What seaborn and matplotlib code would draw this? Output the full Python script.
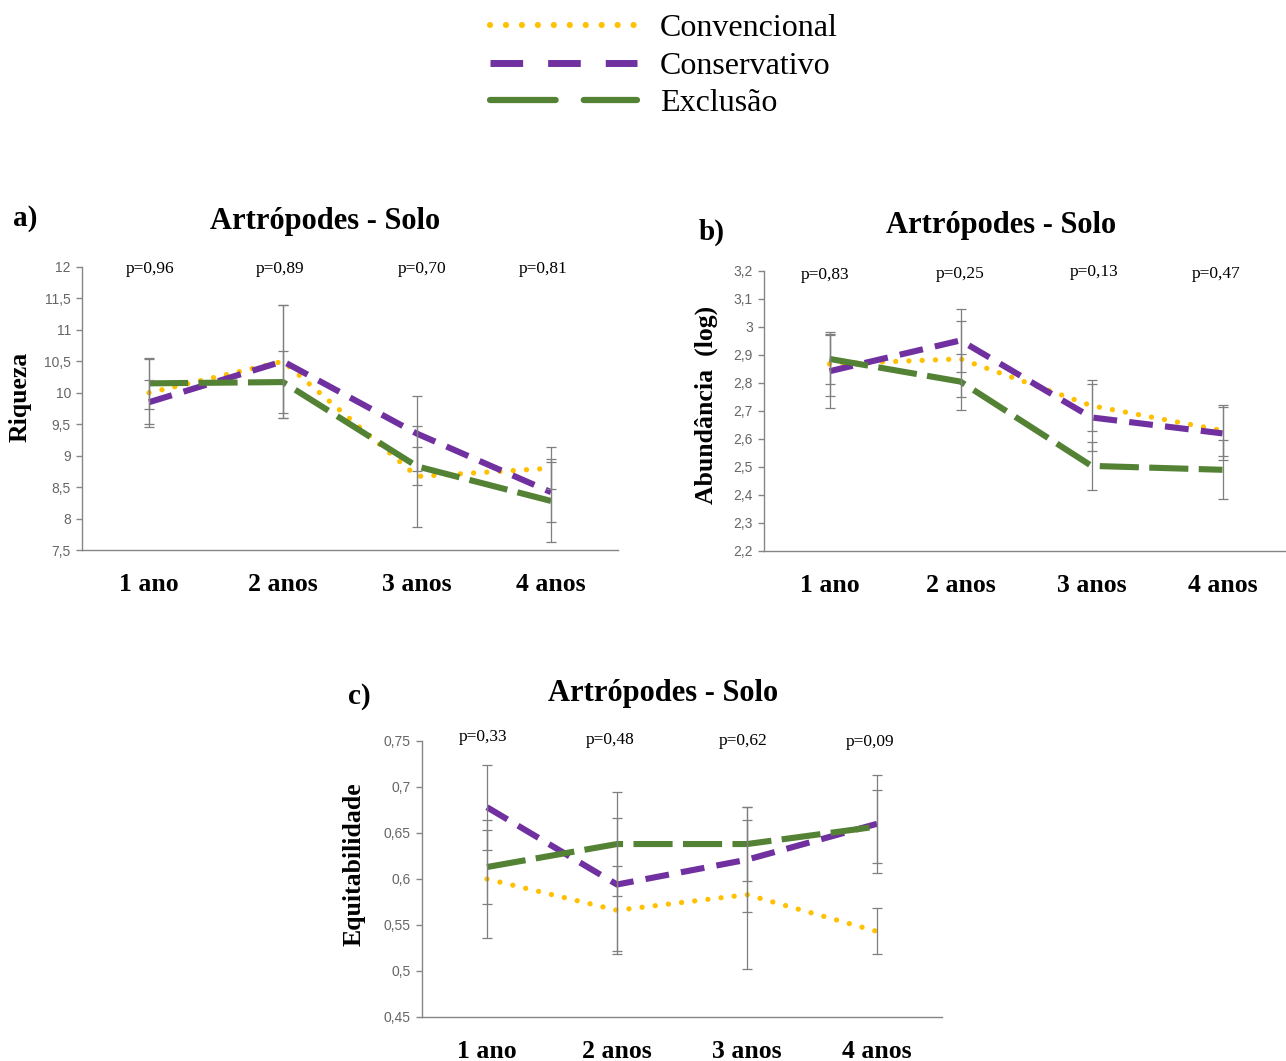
import numpy as np
import pandas as pd
import matplotlib
matplotlib.use("Agg")
import matplotlib.pyplot as plt
import matplotlib.transforms as mtransforms
import seaborn as sns
from matplotlib.lines import Line2D
from matplotlib.ticker import FuncFormatter, MultipleLocator, FixedLocator

sns.set_theme(style="white")
plt.rcParams['font.family'] = ['Liberation Serif', 'DejaVu Serif']
plt.rcParams['text.color'] = 'black'
plt.rcParams['axes.labelcolor'] = 'black'

# ---------------- data ----------------
categories = ["1 ano", "2 anos", "3 anos", "4 anos"]
treatments = ["Convencional", "Conservativo", "Exclusão"]

riq_conv = [10.0, 10.5, 8.67, 8.8]
riq_cons = [9.85, 10.5, 9.35, 8.42]
riq_excl = [10.15, 10.17, 8.83, 8.28]
riq_err_conv = [0.54, 0.9, 0.8, 0.33]
riq_err_cons = [0.35, 0.9, 0.6, 0.48]
riq_err_excl = [0.40, 0.49, 0.3, 0.66]
riq_p = ["p=0,96", "p=0,89", "p=0,70", "p=0,81"]

abd_conv = [2.868, 2.886, 2.719, 2.63]
abd_cons = [2.842, 2.952, 2.677, 2.62]
abd_excl = [2.886, 2.805, 2.504, 2.49]
abd_err_conv = [0.115, 0.135, 0.09, 0.09]
abd_err_cons = [0.13, 0.113, 0.12, 0.095]
abd_err_excl = [0.09, 0.10, 0.085, 0.105]
abd_p = ["p=0,83", "p=0,25", "p=0,13", "p=0,47"]

eq_conv = [0.600, 0.566, 0.583, 0.543]
eq_cons = [0.678, 0.594, 0.621, 0.660]
eq_excl = [0.613, 0.638, 0.638, 0.657]
eq_err_conv = [0.064, 0.048, 0.081, 0.025]
eq_err_cons = [0.046, 0.072, 0.057, 0.053]
eq_err_excl = [0.040, 0.057, 0.040, 0.040]
eq_p = ["p=0,33", "p=0,48", "p=0,62", "p=0,09"]

# ---------------- style ----------------
palette = {"Convencional": "#FFC000", "Conservativo": "#7030A0", "Exclusão": "#548235"}
dashes = {"Convencional": (0.01, 2.5), "Conservativo": (3.9, 2.0), "Exclusão": (6.4, 1.7)}
widths = {"Convencional": 3.8, "Conservativo": 4.4, "Exclusão": 4.4}
GRAY = "#868686"
TICK_GRAY = "#666666"

W, H = 1286, 1061
fig = plt.figure(figsize=(W / 100, H / 100), dpi=100)


def px_axes(left, top, right, bottom):
    return fig.add_axes([left / W, 1 - bottom / H, (right - left) / W, (bottom - top) / H])


def comma_fmt(v, pos):
    s = f"{round(v, 3):g}"
    return s.replace(".", ",")


def draw_panel(ax, series, errs, pvals, ylim, step, ylabel, ylabel_xy, p_xoff, p_y):
    rows = []
    for t in treatments:
        for i, v in enumerate(series[t]):
            rows.append({"pos": i, "valor": v, "Tratamento": t})
    df = pd.DataFrame(rows)
    for t in treatments:
        sub = df[df["Tratamento"] == t]
        sns.lineplot(data=sub, x="pos", y="valor", color=palette[t],
                     linewidth=widths[t], ax=ax, legend=False, errorbar=None, sort=False)
        line = ax.lines[-1]
        line.set_dashes(dashes[t])
        if t == "Convencional":
            line.set_dash_capstyle("round")
        else:
            line.set_dash_capstyle("butt")
    for t in treatments:
        ax.errorbar(np.arange(len(categories)), series[t], yerr=errs[t], fmt="none",
                    ecolor="#7f7f7f", elinewidth=0.9, capsize=3.5, capthick=0.9, zorder=5)

    ax.set_xlim(-0.5, len(categories) - 0.5)
    ax.set_ylim(*ylim)
    ax.yaxis.set_major_locator(MultipleLocator(step))
    ax.yaxis.set_major_formatter(FuncFormatter(comma_fmt))
    ax.set_xticks(range(len(categories)))
    ax.set_xticklabels(categories, fontsize=18.5, fontweight="bold", color="black")
    ax.xaxis.set_minor_locator(FixedLocator(np.arange(-0.5, len(categories), 1.0)))
    ax.tick_params(axis="x", which="major", length=0, pad=16.5)
    ax.tick_params(axis="x", which="minor", length=7, width=1, color=GRAY, direction="out")
    ax.tick_params(axis="y", which="major", length=4, width=1, color=GRAY, direction="out",
                   labelsize=10, labelcolor=TICK_GRAY, pad=4, left=True)
    for lab in ax.get_yticklabels():
        lab.set_family(["Liberation Sans", "DejaVu Sans"])
    for s in ["top", "right"]:
        ax.spines[s].set_visible(False)
    for s in ["left", "bottom"]:
        ax.spines[s].set_color(GRAY)
        ax.spines[s].set_linewidth(1.0)
    ax.set_xlabel("")
    ax.set_ylabel(ylabel, fontsize=18.5, fontweight="bold", color="black")
    ax.yaxis.set_label_coords(*ylabel_xy)
    trans = mtransforms.blended_transform_factory(ax.transData, ax.transAxes)
    for i, p in enumerate(pvals):
        ax.text(i + p_xoff[i], p_y[i], p, transform=trans, ha="center", va="center",
                fontsize=12.5, color="black")
    ax.set_facecolor("white")


ax_a = px_axes(82, 267, 618, 550)
draw_panel(ax_a,
           {"Convencional": riq_conv, "Conservativo": riq_cons, "Exclusão": riq_excl},
           {"Convencional": riq_err_conv, "Conservativo": riq_err_cons, "Exclusão": riq_err_excl},
           riq_p, (7.5, 12), 0.5, "Riqueza", (-0.095, 0.54),
           [0.01, -0.02, 0.04, -0.06], [0.993, 0.993, 0.993, 0.993])

ax_b = px_axes(764, 271, 1288, 551)
draw_panel(ax_b,
           {"Convencional": abd_conv, "Conservativo": abd_cons, "Exclusão": abd_excl},
           {"Convencional": abd_err_conv, "Conservativo": abd_err_cons, "Exclusão": abd_err_excl},
           abd_p, (2.2, 3.2), 0.1, "Abundância  (log)", (-0.088, 0.52),
           [-0.03, 0.0, 0.02, -0.05], [0.984, 0.99, 0.997, 0.99])

ax_c = px_axes(422, 741, 942, 1017)
draw_panel(ax_c,
           {"Convencional": eq_conv, "Conservativo": eq_cons, "Exclusão": eq_excl},
           {"Convencional": eq_err_conv, "Conservativo": eq_err_cons, "Exclusão": eq_err_excl},
           eq_p, (0.45, 0.75), 0.05, "Equitabilidade", (-0.108, 0.554),
           [-0.03, -0.05, -0.03, -0.05], [1.013, 1.003, 1.0, 0.996])


# titles and panel letters
def ftext(x, y, s, **kw):
    fig.text(x / W, 1 - y / H, s, ha="center", va="center", **kw)


ftext(325, 222, "Artrópodes - Solo", fontsize=22, fontweight="bold")
ftext(1001, 225, "Artrópodes - Solo", fontsize=22, fontweight="bold")
ftext(663, 694, "Artrópodes - Solo", fontsize=22, fontweight="bold")
ftext(25, 218, "a)", fontsize=21, fontweight="bold")
ftext(712, 232, "b)", fontsize=21, fontweight="bold")
ftext(359, 697, "c)", fontsize=21, fontweight="bold")

# legend
handles = [
    Line2D([], [], color=palette["Convencional"], lw=4.4, dashes=(0.01, 2.6), dash_capstyle="round"),
    Line2D([], [], color=palette["Conservativo"], lw=5.0, dashes=(4.7, 3.6), dash_capstyle="butt"),
    Line2D([], [], color=palette["Exclusão"], lw=4.5, dashes=(10.5, 4.5), dash_capstyle="round"),
]
fig.legend(handles, treatments, loc="upper left", bbox_to_anchor=(490 / W, 1 - 14 / H),
           frameon=False, fontsize=23, handlelength=4.6, handletextpad=0.72,
           labelspacing=0.25, borderpad=0, borderaxespad=0)

fig.savefig("out.png", dpi=100, facecolor="white")
